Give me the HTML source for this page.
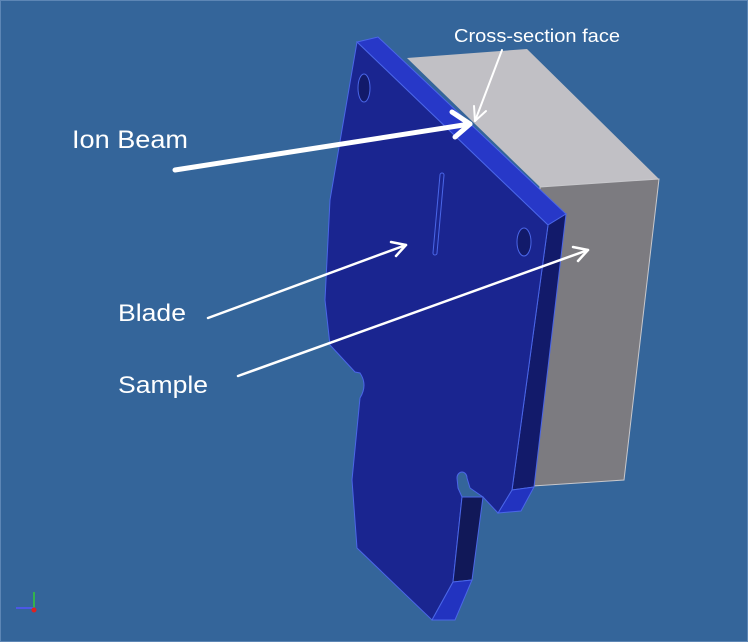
<!DOCTYPE html>
<html><head><style>
html,body{margin:0;padding:0;background:#34659a;}
svg{display:block}
text{font-family:"Liberation Sans",sans-serif;fill:#fff}
</style></head><body>
<svg width="748" height="642" viewBox="0 0 748 642" xmlns="http://www.w3.org/2000/svg">
<rect x="0" y="0" width="748" height="642" fill="#34659a" stroke="#5d86b5" stroke-width="2"/>
<!-- gray block -->
<polygon points="407,58 527,49 659,179 540,187" fill="#c1c0c5"/>
<polygon points="540,187 659,179 624,480 533,486" fill="#7c7b80" stroke="#c8c8cc" stroke-width="1"/>
<!-- blade -->
<polygon points="357,42 378,37 566,214 548,225" fill="#2738c8" stroke="#4a66e8" stroke-width="1"/>
<polygon points="548,225 566,214 534,487 512,490" fill="#121a6a" stroke="#4a66e8" stroke-width="1"/>
<polygon points="512,490 534,487 521,511 498,513" fill="#2233c0" stroke="#4a66e8" stroke-width="1"/>
<path d="M357,42 L548,225 L512,490 L498,513 L483,497 L470,488 L467,478 A5,6 0 0 0 457,478 L458,488 L462,497 L453,582 L432,620 L357,548 L352,480 L360,398 Q368,385 360,373 L355,372 L330,345 L325,300 L330,200 Z" fill="#1a2590" stroke="#4a66e8" stroke-width="1"/>
<polygon points="462,497 483,497 472,580 453,582" fill="#111858" stroke="#4a66e8" stroke-width="1"/>
<polygon points="453,582 472,580 455,620 432,620" fill="#2233c0" stroke="#4a66e8" stroke-width="1"/>
<ellipse cx="364" cy="88" rx="6" ry="14" fill="#121a6a" stroke="#4a66e8"/>
<ellipse cx="524" cy="242" rx="7" ry="14" fill="#121a6a" stroke="#4a66e8"/>
<line x1="442" y1="175" x2="435" y2="253" stroke="#4a66e8" stroke-width="5" stroke-linecap="round"/>
<line x1="442" y1="175" x2="435" y2="253" stroke="#1a2590" stroke-width="3" stroke-linecap="round"/>
<!-- arrows -->
<g stroke="#fff" fill="none" stroke-linecap="round" stroke-linejoin="round">
<line x1="175" y1="170" x2="470" y2="124" stroke-width="5"/>
<polyline points="452,112 470,124 455,137" stroke-width="5"/>
<line x1="502" y1="50" x2="475" y2="121" stroke-width="2"/>
<polyline points="474,106 475,121 486,111" stroke-width="2"/>
<line x1="208" y1="318" x2="406" y2="245" stroke-width="2.5"/>
<polyline points="391,242 406,245 396,256" stroke-width="2.5"/>
<line x1="238" y1="376" x2="588" y2="250" stroke-width="2.5"/>
<polyline points="573,247 588,250 578,261" stroke-width="2.5"/>
</g>
<text x="72" y="148" font-size="25" textLength="116" lengthAdjust="spacingAndGlyphs">Ion Beam</text>
<text x="118" y="321" font-size="24" textLength="68" lengthAdjust="spacingAndGlyphs">Blade</text>
<text x="118" y="393" font-size="24" textLength="90" lengthAdjust="spacingAndGlyphs">Sample</text>
<text x="454" y="42" font-size="18" textLength="166" lengthAdjust="spacingAndGlyphs">Cross-section face</text>
<!-- axis icon -->
<line x1="34" y1="608" x2="34" y2="592" stroke="#3c3" stroke-width="1.5"/>
<line x1="34" y1="608" x2="16" y2="608" stroke="#55f" stroke-width="1.5"/>
<circle cx="34" cy="610" r="2.5" fill="#d22"/>
</svg>
</body></html>
